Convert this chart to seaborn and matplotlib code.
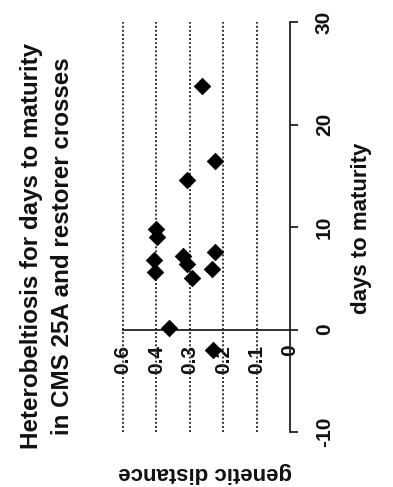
import matplotlib
matplotlib.use("Agg")
import matplotlib.pyplot as plt
import seaborn as sns
import pandas as pd

# ---- data (chart is printed rotated 90 degrees counter-clockwise) ----
days = [23.8, 16.4, 14.6, 9.8, 9.0, 6.8, 5.6, 7.2, 6.4, 5.0, 7.6, 5.9, 0.1, -2.0]
genetic_distance = [0.263, 0.224, 0.307, 0.400, 0.397, 0.406, 0.403,
                    0.320, 0.307, 0.293, 0.224, 0.233, 0.361, 0.230]
gd_ticks = [0, 0.1, 0.2, 0.3, 0.4, 0.5]
gd_tick_labels = ["0", "0.1", "0.2", "0.3", "0.4", "0.6"]
gd_grid = [0.1, 0.2, 0.3, 0.4, 0.5]
day_ticks = [-10, 0, 10, 20, 30]
day_tick_labels = ["-10", "0", "10", "20", "30"]
title_lines = ["Heterobeltiosis for days to maturity",
               "in CMS 25A and restorer crosses"]
xlabel_text = "days to maturity"
ylabel_text = "genetic distance"

sns.set_style("white")
plt.rcParams['font.family'] = ['Liberation Sans', 'DejaVu Sans']

W, H = 393, 487
fig = plt.figure(figsize=(W / 100, H / 100), dpi=100)
ax = fig.add_axes([123 / W, 55 / H, 167 / W, 410 / H])

df = pd.DataFrame({"gd": genetic_distance, "days": days})
sns.scatterplot(data=df, x="gd", y="days", marker="D", s=70, color="black",
                edgecolor="black", linewidth=0.6, ax=ax, zorder=3, legend=False)

ax.set_xlim(0.5, 0)
ax.set_ylim(-10, 30)

# dotted grid lines
ax.vlines(gd_grid, -10, 30, colors="#333333", linewidth=1.4,
          linestyles=(0, (1, 1.1)), zorder=1, clip_on=False)

# spines
for s in ["top", "left"]:
    ax.spines[s].set_visible(False)
ax.spines["right"].set_linewidth(1.3)
ax.spines["right"].set_color("#222222")
ax.spines["bottom"].set_position(("data", 0))
ax.spines["bottom"].set_linewidth(1.3)
ax.spines["bottom"].set_color("#222222")

# days axis (vertical, right side)
ax.yaxis.tick_right()
ax.set_yticks(day_ticks)
ax.set_yticklabels(day_tick_labels, rotation=90, va="center",
                   fontsize=15, fontweight="bold", color="#111111")
ax.tick_params(axis="y", direction="out", length=6, width=1.3,
               pad=12, colors="#222222", labelcolor="#111111")

# genetic distance axis (horizontal, at days = 0)
ax.set_xticks(gd_ticks)
ax.set_xticklabels(gd_tick_labels, rotation=90, ha="center",
                   fontsize=15, fontweight="bold", color="#111111")
ax.tick_params(axis="x", direction="out", length=5, width=1.3,
               pad=6, colors="#222222", labelcolor="#111111")
ax.set_xlabel("")
ax.set_ylabel("")

# texts
fig.text(32 / W, 1 - 246 / H, title_lines[0], rotation=90, ha="center",
         va="center", fontsize=17.4, fontweight="bold", color="#111111")
fig.text(63 / W, 1 - 246 / H, title_lines[1], rotation=90, ha="center",
         va="center", fontsize=17.4, fontweight="bold", color="#111111")
fig.text(362 / W, 1 - 228 / H, xlabel_text, rotation=90, ha="center",
         va="center", fontsize=16, fontweight="bold", color="#111111")
fig.text(205 / W, 1 - 472 / H, ylabel_text, rotation=180, ha="center",
         va="center", fontsize=16, fontweight="bold", color="#111111")

fig.savefig("out.png", dpi=100)
